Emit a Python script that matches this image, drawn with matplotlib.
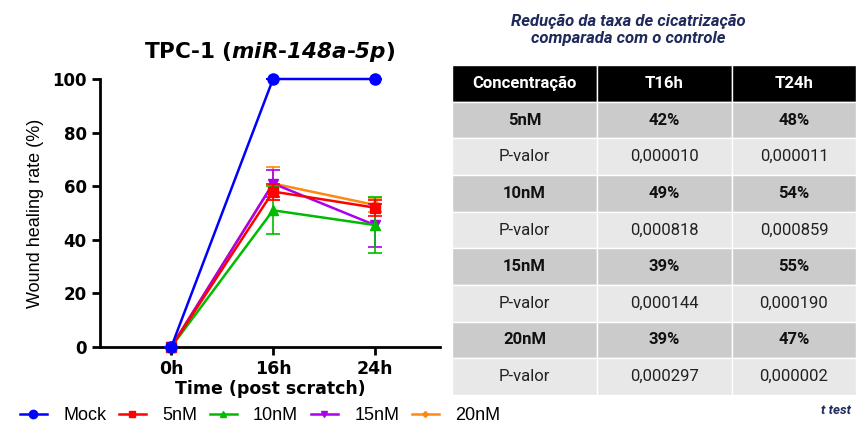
import matplotlib.pyplot as plt
from matplotlib.lines import Line2D
import numpy as np

times = ['0h', '16h', '24h']
series = ['Mock', '5nM', '10nM', '15nM', '20nM']
mock = [0, 100, 100]
nm5 = [0, 58, 52]
nm10 = [0, 51, 45.5]
nm15 = [0, 61, 45.5]
nm20 = [0, 61, 53]
err_mock = [0, 0, 0]
err_5 = [0, 3, 3]
err_10 = [0, 9, 10.5]
err_15 = [0, 5, 8]
err_20 = [0, 6, 2.5]

table_cols = ['Concentração', 'T16h', 'T24h']
table_rows = [['5nM', '42%', '48%'],
              ['P-valor', '0,000010', '0,000011'],
              ['10nM', '49%', '54%'],
              ['P-valor', '0,000818', '0,000859'],
              ['15nM', '39%', '55%'],
              ['P-valor', '0,000144', '0,000190'],
              ['20nM', '39%', '47%'],
              ['P-valor', '0,000297', '0,000002']]

colors = ['#0000ff', '#ff0000', '#00bb00', '#aa00ee', '#ff8811']
markers = ['o', 's', '^', 'v', 'D']
msizes = [8, 7, 7, 7, 5]
data = [mock, nm5, nm10, nm15, nm20]
errs = [err_mock, err_5, err_10, err_15, err_20]

plt.rcParams['font.family'] = ['DejaVu Sans']
plt.rcParams['mathtext.fontset'] = 'custom'
plt.rcParams['mathtext.it'] = 'DejaVu Sans:bold:italic'
plt.rcParams['mathtext.rm'] = 'DejaVu Sans:bold:italic'
fig = plt.figure(figsize=(8.56, 4.28), dpi=100)
ax = fig.add_axes([100/856, (428-347)/428, 340/856, 268/428])

x = np.arange(len(times))
for i in reversed(range(len(series))):
    ax.errorbar(x, data[i], yerr=errs[i], color=colors[i], marker=markers[i],
                ms=msizes[i], lw=1.8, capsize=5, elinewidth=1.2, capthick=1.2,
                zorder=3 + (5 - i), clip_on=False)

ax.set_xlim(-0.7, 2.64)
ax.set_ylim(0, 100)
ax.set_xticks(x)
ax.set_xticklabels(times, fontweight='bold', fontsize=12.5)
ax.set_yticks([0, 20, 40, 60, 80, 100])
ax.set_yticklabels([0, 20, 40, 60, 80, 100], fontweight='bold', fontsize=12)
for s in ['top', 'right']:
    ax.spines[s].set_visible(False)
for s in ['left', 'bottom']:
    ax.spines[s].set_linewidth(2)
ax.tick_params(width=2, length=6)
ax.set_xlabel('Time (post scratch)', fontweight='bold', fontsize=12.5, labelpad=1)
ax.set_ylabel('Wound healing rate (%)', fontsize=13, labelpad=6,
              family=['Liberation Sans'])
ax.set_title(r'TPC-1 ($\mathit{miR}$-$\mathit{148a}$-$\mathit{5p}$)', fontweight='bold',
             fontsize=15.5, pad=15)

handles = [Line2D([], [], color=colors[i], marker=markers[i], ms=msizes[i] - 2, lw=1.8)
           for i in range(len(series))]
fig.legend(handles, series, loc='center', bbox_to_anchor=(260/856, 1 - 416/428),
           ncol=5, frameon=False, handlelength=1.5, columnspacing=0.7,
           handletextpad=0.9, prop={'family': 'Liberation Sans', 'size': 13})

# table
tax = fig.add_axes([452/856, (428-395)/428, 404/856, 330/428])
tax.axis('off')
tbl = tax.table(cellText=table_rows, colLabels=table_cols, bbox=[0, 0, 1, 1],
                colWidths=[145, 135, 124], cellLoc='center')
tbl.auto_set_font_size(False)
for (r, c), cell in tbl.get_celld().items():
    cell.set_edgecolor('white')
    cell.set_linewidth(1)
    txt = cell.get_text()
    txt.set_fontfamily(['Roboto', 'DejaVu Sans'])
    txt.set_fontsize(12)
    if r == 0:
        cell.set_facecolor('black')
        txt.set_color('white')
        txt.set_fontweight('bold')
    elif r % 2 == 1:
        cell.set_facecolor('#cbcbcb')
        txt.set_fontweight('bold')
        txt.set_color('#111111')
    else:
        cell.set_facecolor('#e8e8e8')
        txt.set_color('#222222')

fig.text(628/856, 1 - 30/428, 'Redução da taxa de cicatrização\ncomparada com o controle',
         ha='center', va='center', color='#1f2a5c', fontstyle='italic', fontweight='bold',
         fontsize=12, family=['Roboto', 'DejaVu Sans'], linespacing=1.15)
fig.text(851/856, 1 - 410/428, 't test', ha='right', va='center', color='#1f2a5c',
         fontstyle='italic', fontweight='bold', fontsize=9.5, family=['Roboto', 'DejaVu Sans'])

fig.savefig('out.png', dpi=100)
